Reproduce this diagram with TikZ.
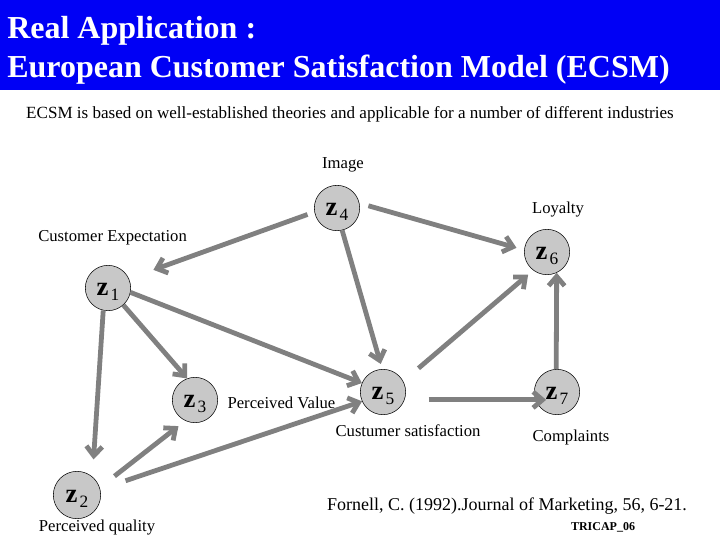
\documentclass[tikz,border=0pt]{standalone}
\usepackage{fontspec}
\setmainfont{Liberation Serif}
\usetikzlibrary{arrows.meta, positioning}
\definecolor{ecsmblue}{HTML}{0000F5}
\definecolor{ecsmgray}{HTML}{808080}
\definecolor{ecsmnode}{HTML}{C8C8C8}
\newcommand{\zvar}[1]{{\fontsize{20}{20}\selectfont\textbf{z}}\,\raisebox{-4pt}{\fontsize{13}{13}\selectfont #1}}

\begin{document}
\begin{tikzpicture}[x=0.75pt, y=-0.75pt,
  latent/.style={circle, draw=black, thin, fill=ecsmnode, minimum size=34pt, inner sep=0pt,
                 text height=14.5pt, text depth=4pt},
  lbl/.style={font=\fontsize{12.5}{14}\selectfont, inner sep=0pt},
  arr/.style={-{Straight Barb[length=7pt, width=12pt]}, line width=3.6pt, ecsmgray}]
  \useasboundingbox (0,0) rectangle (720,540);
  \fill[ecsmblue] (0,0) rectangle (720,90);
  \node[anchor=base west, text=white, font=\fontsize{24}{28}\selectfont\bfseries, inner sep=0pt]
       (title1) at (7,38) {Real Application :};
  \node[anchor=base west, text=white, font=\fontsize{24}{28}\selectfont\bfseries, inner sep=0pt]
       (title2) at (7,77) {European Customer Satisfaction Model (ECSM)};
  \node[lbl, font=\fontsize{12.8}{14}\selectfont] (intro) at (350,114)
       {ECSM is based on well-established theories and applicable for a number of different industries};

  % latent variables
  \node[latent] (z1) at (108,288) {\zvar{1}};
  \node[latent, minimum size=35.5pt] (z2) at (77,495) {\zvar{2}};
  \node[latent] (z3) at (195,400) {\zvar{3}};
  \node[latent] (z4) at (337,208) {\zvar{4}};
  \node[latent] (z5) at (383,392) {\zvar{5}};
  \node[latent] (z6) at (547,252) {\zvar{6}};
  \node[latent] (z7) at (557,392) {\zvar{7}};

  % names
  \node[lbl] (image) at (343,165) {Image};
  \node[lbl, anchor=west] (expect) at (38,238) {Customer Expectation};
  \node[lbl] (loyalty) at (558,210) {Loyalty};
  \node[lbl, right=7pt of z3, yshift=-2pt] (value) {Perceived Value};
  \node[lbl] (satisf) at (408,431) {Custumer satisfaction};
  \node[lbl] (complain) at (571,437) {Complaints};
  \node[lbl] (quality) at (97,528) {Perceived quality};
  \node[font=\fontsize{13.5}{16}\selectfont, inner sep=0pt] (ref) at (507,506)
       {Fornell, C. (1992).Journal of Marketing, 56, 6-21.};
  \node[font=\fontsize{9}{11}\selectfont\bfseries, inner sep=0pt] (tag) at (603,527) {TRICAP\_06};

  % paths
  \draw[arr, shorten <=5.5pt, shorten >=19.5pt] (z4.190) -- (z1.24);
  \draw[arr, shorten <=7pt, shorten >=6pt] (z4.12) -- (z6.175);
  \draw[arr, shorten >=4pt] (z4.-77) -- (z5.92);
  \draw[arr] (z1.-48) -- (z3.110);
  \draw[arr] (z1.-11) -- (z5.157);
  \draw[arr, shorten >=13pt] (z1.258) -- (z2.50);
  \draw[arr, shorten <=14pt, shorten >=6.5pt] (z2.18) -- (z3.245);
  \draw[arr, shorten <=20pt] (z2.14) -- (z5.204);
  \draw[arr, shorten <=15pt, shorten >=5pt] (z5.28) -- (z6.233);
  \draw[arr, shorten <=18pt, shorten >=-8pt] (z5.-20) -- (z7.200);
  \draw[arr] (z7.92) -- (z6.-65);
\end{tikzpicture}
\end{document}
